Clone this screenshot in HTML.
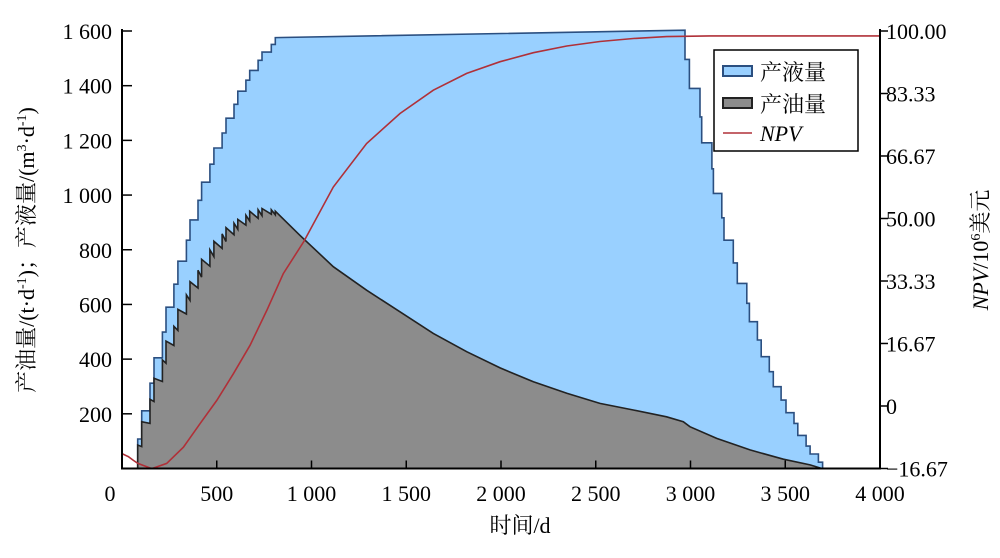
<!DOCTYPE html>
<html><head><meta charset="utf-8"><style>
body{margin:0;background:#fff}
svg text{font-family:"Liberation Serif","Noto Serif CJK SC","Noto Sans CJK SC",serif;fill:#000}
</style></head><body>
<svg id="chart" width="1000" height="553" viewBox="0 0 1000 553" xmlns="http://www.w3.org/2000/svg">
<g id="plot"></g>
<g id="axes"></g>
<text x="520" y="533" font-size="22" text-anchor="middle">时间/d</text>
<text transform="translate(34,250) rotate(-90)" font-size="22" text-anchor="middle">产油量/(t·d<tspan font-size="14" dy="-8">-1</tspan><tspan dy="8">)；产液量/(m</tspan><tspan font-size="14" dy="-8">3</tspan><tspan dy="8">·d</tspan><tspan font-size="14" dy="-8">-1</tspan><tspan dy="8">)</tspan></text>
<text transform="translate(988,250) rotate(-90)" font-size="22" text-anchor="middle"><tspan font-style="italic">NPV</tspan>/10<tspan font-size="14" dy="-8">6</tspan><tspan dy="8">美元</tspan></text>
<g>
<rect x="714" y="50" width="144" height="101" fill="#fff" stroke="#000" stroke-width="1.5"/>
<rect x="723" y="66" width="29" height="10" fill="#99d0ff" stroke="#2b4f80" stroke-width="2"/>
<text x="760" y="80" font-size="22">产液量</text>
<rect x="723" y="98" width="29" height="10" fill="#8c8c8c" stroke="#222" stroke-width="2"/>
<text x="760" y="112" font-size="22">产油量</text>
<line x1="723" y1="133" x2="752" y2="133" stroke="#b03038" stroke-width="1.5"/>
<text x="760" y="141" font-size="22" font-style="italic">NPV</text>
</g>
</svg>
<script>
const liqDays=[83,104,148,169,213,232,274,295,340,359,401,420,464,485,528,549,591,611,654,674,718,739,788,809,2971,2994,3050,3059,3113,3121,3165,3177,3226,3247,3297,3311,3353,3373,3416,3437,3478,3504,3546,3566,3610,3631,3675,3697];
const liqVals=[108,211,312,405,499,590,674,758,835,909,981,1047,1113,1172,1227,1281,1332,1380,1420,1456,1493,1523,1551,1576,1496,1390,1286,1191,1096,1006,917,835,752,677,604,537,470,409,354,299,250,204,165,121,82,53,23,0];
const liqPlateauEnd=1603;
const oilStepAfter=[86,171,253,330,397,466,520,582,635,683,725,765,800,831,858,881,897,911,926,941,946,951,946,941];
const oilStepBefore=[80,165,245,318,385,450,505,565,615,660,700,740,775,805,830,855,875,890,905,915,925,930,928];
const oilTailDays=[939,1115,1291,1467,1643,1819,1995,2171,2347,2522,2698,2874,2962,2997,3138,3314,3490,3631,3693];
const oilTailVals=[853,738,652,573,494,427,368,317,275,238,214,189,171,153,110,68,34,13,0];
const npvDays=[0,0,33,60,84,157,236,324,412,500,588,676,764,851,960,1115,1291,1467,1643,1819,1995,2171,2347,2522,2698,2874,3100,4000];
const npvVals=[0.2,-12.7,-13.5,-14.5,-15.3,-16.7,-15.3,-11,-4.7,1.5,8.6,16.2,25.5,35.3,43.9,58.4,70.0,78.0,84.2,88.7,91.8,94.2,96.0,97.2,98.0,98.5,98.7,98.7];
const xTicks=[0,500,1000,1500,2000,2500,3000,3500,4000];
const xTickLabels=["0","500","1 000","1 500","2 000","2 500","3 000","3 500","4 000"];
const yTicks=[200,400,600,800,1000,1200,1400,1600];
const yTickLabels=["200","400","600","800","1 000","1 200","1 400","1 600"];
const y2Ticks=[-16.67,0,16.67,33.33,50,66.67,83.33,100];
const y2TickLabels=["\u221216.67","0","16.67","33.33","50.00","66.67","83.33","100.00"];

const X0=122,X1=880,YB=468.5,YT=31;
const sx=d=>X0+d/4000*(X1-X0);
const sy=v=>YB-v/1600*(YB-YT);
const sy2=v=>YB-(v+16.67)/116.67*(YB-YT);
const NS='http://www.w3.org/2000/svg';
function mk(tag,attrs,parent){const e=document.createElementNS(NS,tag);for(const k in attrs)e.setAttribute(k,attrs[k]);parent.appendChild(e);return e;}
const plot=document.getElementById('plot'),axes=document.getElementById('axes');

// liquid path (step)
let lp=[[sx(liqDays[0]),sy(0)]];
let prev=0;
for(let i=0;i<24;i++){lp.push([sx(liqDays[i]),sy(prev)]);lp.push([sx(liqDays[i]),sy(liqVals[i])]);prev=liqVals[i];}
lp.push([sx(liqDays[24]),sy(liqPlateauEnd)]);prev=liqPlateauEnd;
for(let i=24;i<liqDays.length;i++){lp.push([sx(liqDays[i]),sy(prev)]);lp.push([sx(liqDays[i]),sy(liqVals[i])]);prev=liqVals[i];}
const lstr=lp.map(p=>p[0].toFixed(1)+','+p[1].toFixed(1)).join(' ');
const liq=mk('polygon',{points:lstr,fill:'#99d0ff',stroke:'none'},plot);


const liqL=mk('polyline',{points:lstr,fill:'none',stroke:'#2b4f80','stroke-width':1.6},plot);



// oil path
let op=[[sx(liqDays[0]),sy(0)]];
for(let i=0;i<24;i++){
  if(i>0)op.push([sx(liqDays[i]),sy(oilStepBefore[i-1])]);
  op.push([sx(liqDays[i]),sy(oilStepAfter[i])]);
}
for(let i=0;i<oilTailDays.length;i++)op.push([sx(oilTailDays[i]),sy(oilTailVals[i])]);
const ostr=op.map(p=>p[0].toFixed(1)+','+p[1].toFixed(1)).join(' ');
const oil=mk('polygon',{points:ostr,fill:'#8c8c8c',stroke:'none'},plot);


const oilL=mk('polyline',{points:ostr,fill:'none',stroke:'#222','stroke-width':1.6},plot);



// NPV
const nstr=npvDays.map((d,i)=>sx(d).toFixed(1)+','+sy2(npvVals[i]).toFixed(1)).join(' ');
const npv=mk('polyline',{points:nstr,fill:'none',stroke:'#b03038','stroke-width':1.6},plot);



// axes
const box=mk('path',{d:`M${X0},${YT-2} V${YB} H${X1} V${YT-2}`,fill:'none',stroke:'#000','stroke-width':2},axes);


xTicks.forEach((t,i)=>{
  const x=sx(t);
  if(i>0&&i<xTicks.length-1){const l=mk('line',{x1:x,y1:YB,x2:x,y2:YB-8,stroke:'#000','stroke-width':1.5},axes);
  
  }
  const tx=mk('text',{x:i===0?110:x,y:501,'font-size':22,'text-anchor':'middle'},axes);
  tx.textContent=xTickLabels[i];
  
  
});
yTicks.forEach((t,i)=>{
  const y=sy(t);
  const l=mk('line',{x1:X0,y1:y,x2:X0+10,y2:y,stroke:'#000','stroke-width':1.5},axes);
  
  
  const tx=mk('text',{x:112,y:y+8,'font-size':22,'text-anchor':'end'},axes);
  tx.textContent=yTickLabels[i];
  
  
});
y2Ticks.forEach((t,i)=>{
  const y=sy2(t);
  const l=mk('line',{x1:X1,y1:y,x2:X1+8,y2:y,stroke:'#000','stroke-width':1.5},axes);
  
  
  const tx=mk('text',{x:886,y:y+8,'font-size':22,'text-anchor':'start'},axes);
  tx.textContent=y2TickLabels[i];
  
  
});
</script>
</body></html>
